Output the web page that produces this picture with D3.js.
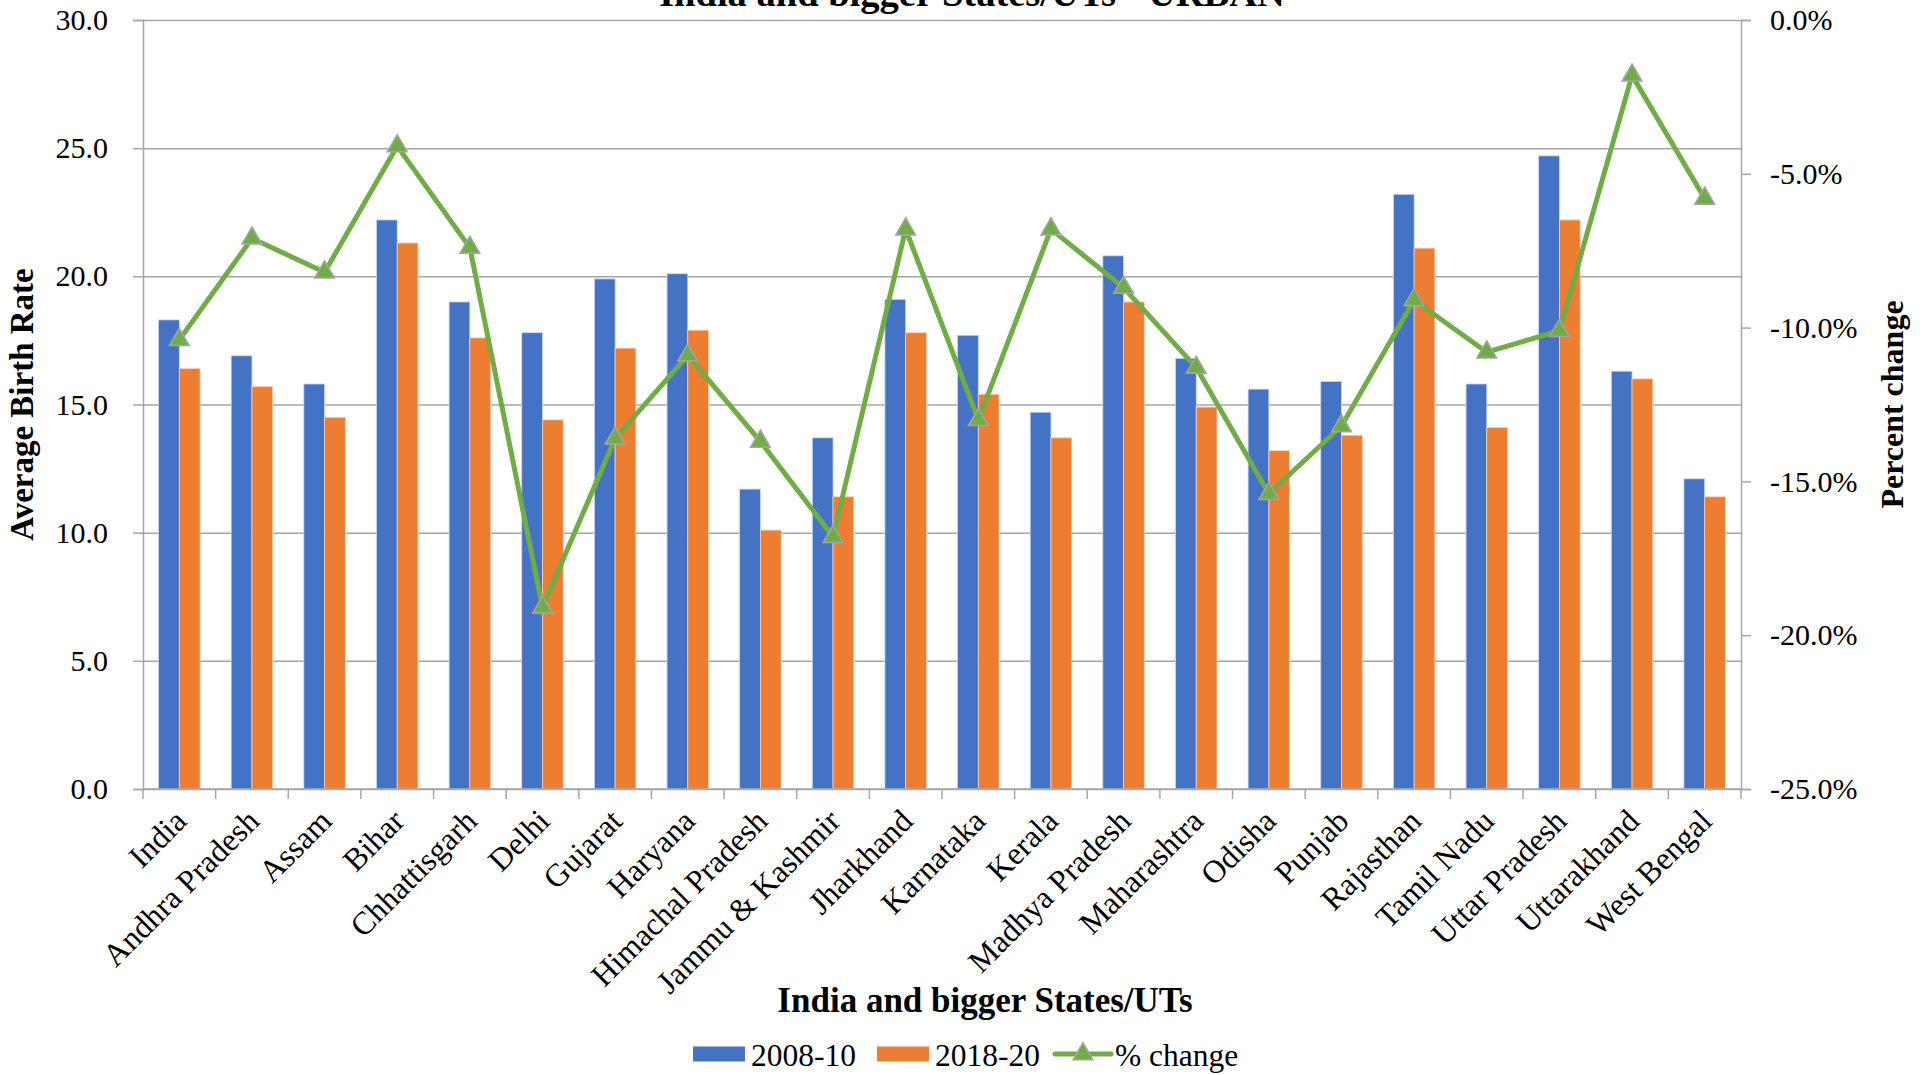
<!DOCTYPE html>
<html>
<head>
<meta charset="utf-8">
<script src="https://cdn.jsdelivr.net/npm/d3@7"></script>
<style>
	body { margin: 0; background: #fff; }
	text { font-family: "Liberation Serif", "Times New Roman", serif; fill: #000; }
</style>
</head>
<body>
<svg id="chart" width="1929" height="1075"></svg>
<script>
const states = ["India", "Andhra Pradesh", "Assam", "Bihar", "Chhattisgarh", "Delhi", "Gujarat", "Haryana",
	"Himachal Pradesh", "Jammu & Kashmir", "Jharkhand", "Karnataka", "Kerala", "Madhya Pradesh", "Maharashtra",
	"Odisha", "Punjab", "Rajasthan", "Tamil Nadu", "Uttar Pradesh", "Uttarakhand", "West Bengal"];
const rate2008 = [18.3, 16.9, 15.8, 22.2, 19.0, 17.8, 19.9, 20.1, 11.7, 13.7, 19.1, 17.7, 14.7, 20.8, 16.8, 15.6, 15.9, 23.2, 15.8, 24.7, 16.3, 12.1];
const rate2018 = [16.4, 15.7, 14.5, 21.3, 17.6, 14.4, 17.2, 17.9, 10.1, 11.4, 17.8, 15.4, 13.7, 19.0, 14.9, 13.2, 13.8, 21.1, 14.1, 22.2, 16.0, 11.4];
const pctChange = [-10.4, -7.1, -8.2, -4.1, -7.4, -19.1, -13.6, -10.9, -13.7, -16.8, -6.8, -13.0, -6.8, -8.7, -11.3, -15.4, -13.2, -9.1, -10.8, -10.1, -1.8, -5.8];
const leftTicks = [0, 5, 10, 15, 20, 25, 30];
const rightTicks = [0, -5, -10, -15, -20, -25];
const seriesNames = ["2008-10", "2018-20", "% change"];

const colors = { blue: "#4472C4", orange: "#ED7D31", green: "#70AD47", grid: "#a6a6a6" };

const svg = d3.select("svg#chart");
const margin = { top: 20, right: 188, bottom: 286, left: 143 };
const width = 1929, height = 1075;
const plotRight = width - margin.right;
const plotBottom = height - margin.bottom;

const x = d3.scaleBand().domain(states).range([margin.left, plotRight]).padding(0);
const y = d3.scaleLinear().domain([0, 30]).range([plotBottom, margin.top]);
const yPct = d3.scaleLinear().domain([-25, 0]).range([plotBottom, margin.top]);
const barW = x.bandwidth() / 3.5; // excel gap width 150%

// gridlines + left ticks
const grid = svg.append("g").attr("transform", `translate(${margin.left},0)`)
	.call(d3.axisLeft(y).tickValues(leftTicks).tickSize(-(plotRight - margin.left)).tickFormat(""));
grid.select(".domain").remove();
grid.selectAll("line").attr("stroke", colors.grid).attr("stroke-width", 1.5);

const leftAxis = svg.append("g").attr("transform", `translate(${margin.left},0)`)
	.call(d3.axisLeft(y).tickValues(leftTicks).tickSize(10).tickPadding(25).tickFormat((d) => d.toFixed(1)));
leftAxis.select(".domain").attr("stroke", colors.grid).attr("stroke-width", 1.5);
leftAxis.selectAll("line").attr("stroke", colors.grid).attr("stroke-width", 1.5);
leftAxis.selectAll("text").style("font-size", "30px").style("font-family", "Liberation Serif");

const rightAxis = svg.append("g").attr("transform", `translate(${plotRight},0)`)
	.call(d3.axisRight(yPct).tickValues(rightTicks).tickSize(10).tickPadding(19).tickFormat((d) => d.toFixed(1) + "%"));
rightAxis.select(".domain").attr("stroke", colors.grid).attr("stroke-width", 1.5);
rightAxis.selectAll("line").attr("stroke", colors.grid).attr("stroke-width", 1.5);
rightAxis.selectAll("text").style("font-size", "30px").style("font-family", "Liberation Serif");

// bars
const bars = svg.append("g");
states.forEach(function (s, i) {
	bars.append("rect")
		.attr("x", x(s) + barW * 0.75)
		.attr("y", y(rate2008[i]))
		.attr("width", barW)
		.attr("height", y(0) - y(rate2008[i]))
		.attr("fill", colors.blue)
		.attr("stroke", "#c9d6ee")
		.attr("stroke-width", 0.8);
	bars.append("rect")
		.attr("x", x(s) + barW * 1.75)
		.attr("y", y(rate2018[i]))
		.attr("width", barW)
		.attr("height", y(0) - y(rate2018[i]))
		.attr("fill", colors.orange)
		.attr("stroke", "#f8d2b8")
		.attr("stroke-width", 0.8);
});

// x axis line + ticks at category boundaries
svg.append("line")
	.attr("x1", margin.left).attr("x2", plotRight)
	.attr("y1", y(0)).attr("y2", y(0))
	.attr("stroke", colors.grid).attr("stroke-width", 1.5);
const bounds = states.map((s) => x(s)).concat([x(states[states.length - 1]) + x.bandwidth()]);
svg.append("g").selectAll("line").data(bounds).join("line")
	.attr("x1", (d) => d).attr("x2", (d) => d)
	.attr("y1", y(0)).attr("y2", y(0) + 10)
	.attr("stroke", colors.grid).attr("stroke-width", 1.5);

svg.append("g").selectAll("text").data(states).join("text")
	.attr("transform", (d) => `translate(${x(d) + x.bandwidth() / 2 + 9},${y(0) + 34}) rotate(-45)`)
	.attr("text-anchor", "end")
	.style("font-size", "32px")
	.text((d) => d);

// % change line
const cx = (s) => x(s) + x.bandwidth() / 2;
const line = d3.line().x((d, i) => cx(states[i])).y((d) => yPct(d));
svg.append("path")
	.datum(pctChange)
	.attr("d", line)
	.attr("fill", "none")
	.attr("stroke", colors.green)
	.attr("stroke-width", 5)
	.attr("stroke-linejoin", "round");

const tri = d3.symbol().type(d3.symbolTriangle).size(170);
svg.append("g").selectAll("path").data(pctChange).join("path")
	.attr("transform", (d, i) => `translate(${cx(states[i])},${yPct(d)})`)
	.attr("d", tri)
	.attr("fill", colors.green)
	.attr("stroke", "#a5a5a5")
	.attr("stroke-width", 1.5);

// titles
svg.append("text")
	.attr("x", 972).attr("y", 6)
	.attr("text-anchor", "middle")
	.style("font-size", "38.5px").style("font-weight", "bold")
	.text("India and bigger States/UTs - URBAN");

svg.append("text")
	.attr("x", 985).attr("y", 1012)
	.attr("text-anchor", "middle")
	.style("font-size", "35px").style("font-weight", "bold")
	.text("India and bigger States/UTs");

svg.append("text")
	.attr("transform", `translate(33,${(margin.top + plotBottom) / 2}) rotate(-90)`)
	.attr("text-anchor", "middle")
	.style("font-size", "33px").style("font-weight", "bold")
	.text("Average Birth Rate");

svg.append("text")
	.attr("transform", `translate(1903,${(margin.top + plotBottom) / 2}) rotate(-90)`)
	.attr("text-anchor", "middle")
	.style("font-size", "32px").style("font-weight", "bold")
	.text("Percent change");

// legend
const legend = svg.append("g").attr("transform", "translate(693,1054)");
const legendX = [0, 184, 362];
legend.append("rect").attr("x", legendX[0]).attr("y", -7.5).attr("width", 52).attr("height", 15).attr("fill", colors.blue);
legend.append("rect").attr("x", legendX[1]).attr("y", -7.5).attr("width", 52).attr("height", 15).attr("fill", colors.orange);
legend.append("line").attr("x1", legendX[2]).attr("x2", legendX[2] + 56).attr("y1", 0).attr("y2", 0)
	.attr("stroke", colors.green).attr("stroke-width", 5).attr("stroke-linecap", "round");
legend.append("path").attr("transform", `translate(${legendX[2] + 28},0)`).attr("d", tri)
	.attr("fill", colors.green).attr("stroke", "#a5a5a5").attr("stroke-width", 1.5);
seriesNames.forEach(function (n, i) {
	legend.append("text")
		.attr("x", legendX[i] + (i == 2 ? 60 : 58))
		.attr("y", 1)
		.attr("dominant-baseline", "central")
		.style("font-size", "31.5px")
		.text(n);
});
</script>
</body>
</html>
